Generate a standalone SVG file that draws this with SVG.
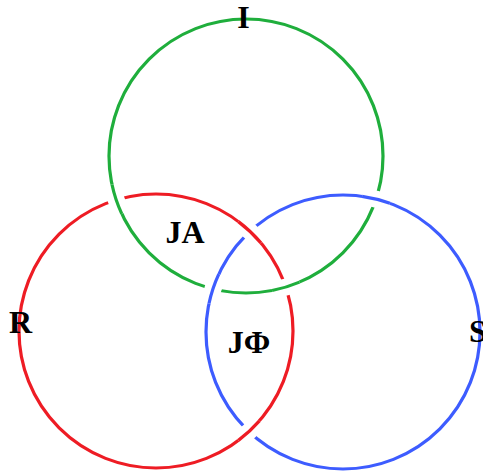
<svg xmlns="http://www.w3.org/2000/svg" width="483" height="475" viewBox="0 0 483 475">
<style>
.ring{fill:none;stroke-width:3.2}
.g{stroke:#1fae3c}
.r{stroke:#ee1c24}
.b{stroke:#3d5cff}
.mask{fill:none;stroke:#fff;stroke-width:17}
.lbl{font-family:"Liberation Serif","Times New Roman",serif;font-weight:bold;font-size:32px;fill:#000}
</style>
<rect width="483" height="475" fill="#fff"/>
<g id="ring-I">
<circle class="ring g" cx="246" cy="156" r="137"/>
</g>
<g id="ring-R">
<circle class="ring r" cx="156" cy="331" r="137"/>
</g>
<g id="ring-S">
<circle class="ring b" cx="343" cy="332" r="137"/>
</g>
<g id="crossings">
<path class="mask" d="M112.0,184.5 A137,137 0 0 0 121.8,213.9"/>
<path class="ring g" d="M112.0,184.5 A137,137 0 0 0 121.8,213.9"/>
<path class="mask" d="M299.5,282.1 A137,137 0 0 1 272.1,290.5"/>
<path class="ring g" d="M299.5,282.1 A137,137 0 0 1 272.1,290.5"/>
<path class="mask" d="M362.1,196.3 A137,137 0 0 1 389.9,203.3"/>
<path class="ring b" d="M362.1,196.3 A137,137 0 0 1 389.9,203.3"/>
<path class="mask" d="M209.0,303.5 A137,137 0 0 1 218.8,274.1"/>
<path class="ring b" d="M209.0,303.5 A137,137 0 0 1 218.8,274.1"/>
<path class="mask" d="M238.4,221.6 A137,137 0 0 1 260.9,242.9"/>
<path class="ring r" d="M238.4,221.6 A137,137 0 0 1 260.9,242.9"/>
<path class="mask" d="M259.4,420.9 A137,137 0 0 1 238.4,440.4"/>
<path class="ring r" d="M259.4,420.9 A137,137 0 0 1 238.4,440.4"/>
</g>
<g id="label-I"><text class="lbl" x="243.5" y="28" text-anchor="middle">I</text></g>
<g id="label-R"><text class="lbl" x="20.5" y="333" text-anchor="middle">R</text></g>
<g id="label-S"><text class="lbl" x="469" y="342">S</text></g>
<g id="label-JA"><text class="lbl" x="185" y="243" text-anchor="middle">JA</text></g>
<g id="label-JPhi"><text class="lbl" x="249" y="353" text-anchor="middle">JΦ</text></g>
</svg>
